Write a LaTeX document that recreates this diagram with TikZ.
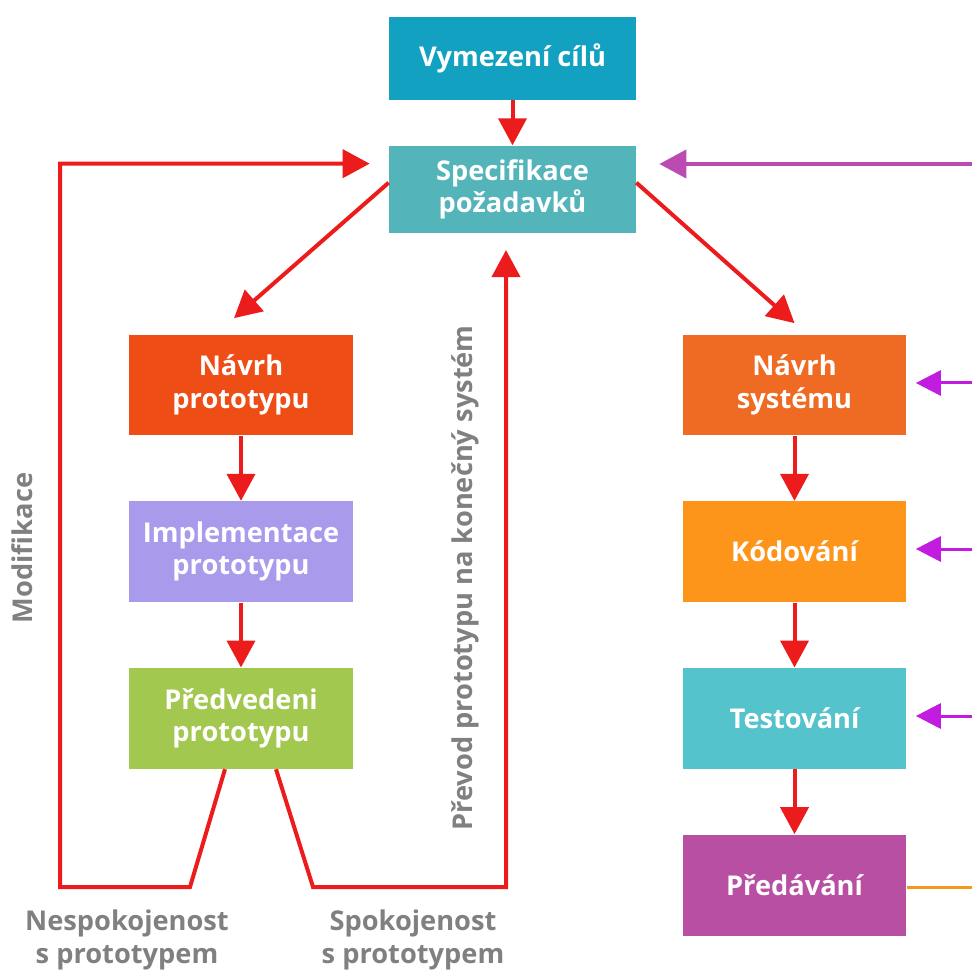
\documentclass[tikz,border=0pt]{standalone}
\usepackage{fontspec}
\setmainfont{Open Sans}
\usetikzlibrary{arrows.meta,positioning}
\definecolor{cvym}{HTML}{12A1C1}
\definecolor{cspec}{HTML}{53B4BA}
\definecolor{cnavrhp}{HTML}{EE4D16}
\definecolor{cimplp}{HTML}{A99AEC}
\definecolor{cpredp}{HTML}{A3C84F}
\definecolor{cnavrhs}{HTML}{EF6A22}
\definecolor{ckod}{HTML}{FD951A}
\definecolor{ctest}{HTML}{55C3CC}
\definecolor{cpredav}{HTML}{B84FA3}
\definecolor{cred}{HTML}{ED1C1C}
\definecolor{cfeed}{HTML}{BB4BB3}
\definecolor{cfeedin}{HTML}{C21CE0}
\definecolor{cout}{HTML}{F29A1F}
\definecolor{cgray}{HTML}{808080}
\tikzset{
  box/.style={rectangle, text=white, align=center, inner sep=0pt,
    font=\bfseries\fontsize{15.5}{18.5}\selectfont,
    minimum width=4.48cm, minimum height=2.02cm},
  goal/.style={box, minimum width=4.94cm, minimum height=1.66cm},
  flow/.style={draw=cred, line width=0.08cm,
    -{Triangle[length=0.54cm,width=0.56cm]}},
  feed/.style={draw=cfeed, line width=0.08cm,
    -{Triangle[length=0.54cm,width=0.56cm]}},
  feedin/.style={draw=cfeedin, line width=0.06cm,
    -{Triangle[length=0.5cm,width=0.5cm]}},
  note/.style={text=cgray, align=center,
    font=\bfseries\fontsize{15.5}{18.5}\selectfont}
}
\begin{document}
\begin{tikzpicture}[x=0.02cm,y=-0.02cm]
\useasboundingbox (0,0) rectangle (972,972);

\node[goal, fill=cvym](vym) at (512.5,58.5){Vymezení cílů};
\node[goal, fill=cspec, minimum height=1.74cm](spec)[below = 0.9cm of vym]{Specifikace\\požadavků};
\node[box, fill=cnavrhp](navrhp) at (241,385){Návrh\\prototypu};
\node[box, fill=cimplp](implp)[below = 1.3cm of navrhp]{Implementace\\prototypu};
\node[box, fill=cpredp](predp)[below = 1.3cm of implp]{Předvedeni\\prototypu};
\node[box, fill=cnavrhs](navrhs) at (794.5,385){Návrh\\systému};
\node[box, fill=ckod](kod)[below = 1.3cm of navrhs]{Kódování};
\node[box, fill=ctest](test)[below = 1.3cm of kod]{Testování};
\node[box, fill=cpredav](predav)[below = 1.3cm of test]{Předávání};

\node[note, rotate=90](modif) at (22,548){Modifikace};
\node[note, rotate=90](prevod) at (465,578){Převod prototypu na konečný systém};
\node[note](nespok) at (127,940){Nespokojenost\\s prototypem};
\node[note](spok) at (413,940){Spokojenost\\s prototypem};

\coordinate (inspec) at (972,164);
\coordinate (innavrhs) at (972,383);
\coordinate (inkod) at (972,549);
\coordinate (intest) at (972,716);
\coordinate (outpredav) at (972,887);

\draw[flow] (vym) -- (spec);
\draw[flow] ([yshift=0.13cm]spec.west) -- ([xshift=-0.14cm,yshift=0.32cm]navrhp.north);
\draw[flow] ([yshift=0.13cm]spec.east) -- ([yshift=0.22cm]navrhs.north);
\draw[flow] (navrhp) -- (implp);
\draw[flow] (implp) -- (predp);
\draw[flow] (navrhs) -- (kod);
\draw[flow] (kod) -- (test);
\draw[flow] (test) -- (predav);
\draw[flow] ([xshift=-0.32cm]predp.south) -- (190,887) -- (60,887)
  |- ([xshift=-0.38cm,yshift=0.51cm]spec.west);
\draw[flow] ([xshift=0.7cm]predp.south) -- (313,887)
  -| ([xshift=-0.13cm,yshift=-0.34cm]spec.south);

\draw[feed] (inspec) -- ([xshift=0.46cm]spec.east |- inspec);
\draw[feedin] (innavrhs) -- ([xshift=0.18cm]navrhs.east |- innavrhs);
\draw[feedin] (inkod) -- ([xshift=0.18cm]kod.east |- inkod);
\draw[feedin] (intest) -- ([xshift=0.18cm]test.east |- intest);
\draw[cout, line width=0.06cm] (predav.east |- outpredav) -- (outpredav);

\end{tikzpicture}
\end{document}
